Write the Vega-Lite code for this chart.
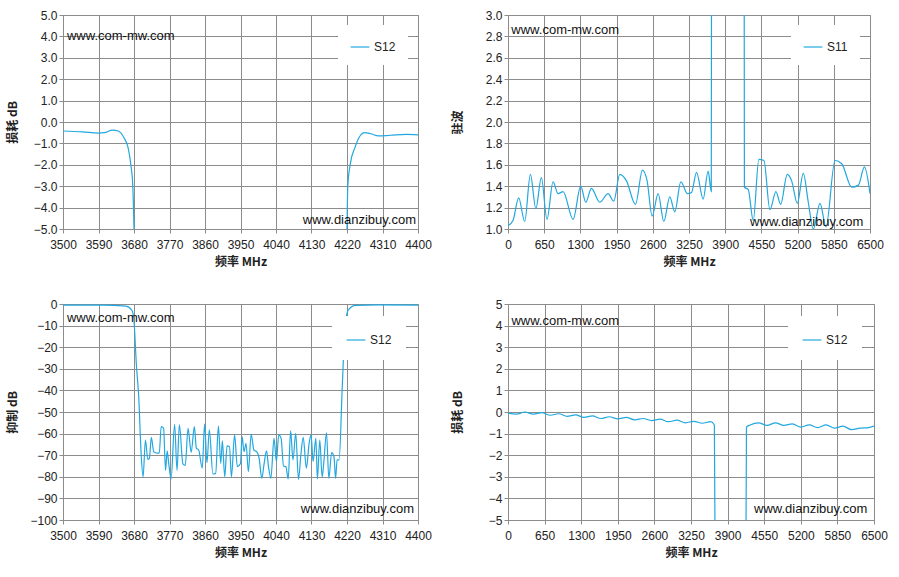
{
  "$schema": "https://vega.github.io/schema/vega-lite/v6.json",
  "padding": {"left": 5, "top": 8, "right": 5, "bottom": 5},
  "background": "white",
  "spacing": 29,
  "resolve": {"scale": {"color": "independent"}, "legend": {"color": "independent"}},
  "datasets": {
    "p1": [
      {"f": 3500, "v": -0.42, "seg": 1, "s": "S12"},
      {"f": 3550, "v": -0.46, "seg": 1, "s": "S12"},
      {"f": 3590, "v": -0.52, "seg": 1, "s": "S12"},
      {"f": 3605, "v": -0.5, "seg": 1, "s": "S12"},
      {"f": 3625, "v": -0.38, "seg": 1, "s": "S12"},
      {"f": 3640, "v": -0.42, "seg": 1, "s": "S12"},
      {"f": 3655, "v": -0.75, "seg": 1, "s": "S12"},
      {"f": 3665, "v": -1.2, "seg": 1, "s": "S12"},
      {"f": 3672, "v": -2.0, "seg": 1, "s": "S12"},
      {"f": 3677, "v": -3.0, "seg": 1, "s": "S12"},
      {"f": 3680, "v": -5.0, "seg": 1, "s": "S12"},
      {"f": 4220, "v": -5.0, "seg": 2, "s": "S12"},
      {"f": 4222, "v": -3.0, "seg": 2, "s": "S12"},
      {"f": 4228, "v": -2.0, "seg": 2, "s": "S12"},
      {"f": 4240, "v": -1.2, "seg": 2, "s": "S12"},
      {"f": 4255, "v": -0.6, "seg": 2, "s": "S12"},
      {"f": 4265, "v": -0.5, "seg": 2, "s": "S12"},
      {"f": 4280, "v": -0.55, "seg": 2, "s": "S12"},
      {"f": 4300, "v": -0.65, "seg": 2, "s": "S12"},
      {"f": 4330, "v": -0.62, "seg": 2, "s": "S12"},
      {"f": 4370, "v": -0.58, "seg": 2, "s": "S12"},
      {"f": 4400, "v": -0.6, "seg": 2, "s": "S12"}
    ],
    "p2": [
      {"f": 0, "v": 1.03, "seg": 1, "s": "S11"},
      {"f": 90, "v": 1.08, "seg": 1, "s": "S11"},
      {"f": 192, "v": 1.29, "seg": 1, "s": "S11"},
      {"f": 300, "v": 1.07, "seg": 1, "s": "S11"},
      {"f": 402, "v": 1.51, "seg": 1, "s": "S11"},
      {"f": 500, "v": 1.19, "seg": 1, "s": "S11"},
      {"f": 599, "v": 1.48, "seg": 1, "s": "S11"},
      {"f": 700, "v": 1.09, "seg": 1, "s": "S11"},
      {"f": 809, "v": 1.44, "seg": 1, "s": "S11"},
      {"f": 899, "v": 1.33, "seg": 1, "s": "S11"},
      {"f": 989, "v": 1.35, "seg": 1, "s": "S11"},
      {"f": 1168, "v": 1.09, "seg": 1, "s": "S11"},
      {"f": 1306, "v": 1.4, "seg": 1, "s": "S11"},
      {"f": 1396, "v": 1.25, "seg": 1, "s": "S11"},
      {"f": 1498, "v": 1.38, "seg": 1, "s": "S11"},
      {"f": 1647, "v": 1.25, "seg": 1, "s": "S11"},
      {"f": 1797, "v": 1.33, "seg": 1, "s": "S11"},
      {"f": 1899, "v": 1.26, "seg": 1, "s": "S11"},
      {"f": 2007, "v": 1.51, "seg": 1, "s": "S11"},
      {"f": 2127, "v": 1.45, "seg": 1, "s": "S11"},
      {"f": 2289, "v": 1.23, "seg": 1, "s": "S11"},
      {"f": 2414, "v": 1.55, "seg": 1, "s": "S11"},
      {"f": 2498, "v": 1.45, "seg": 1, "s": "S11"},
      {"f": 2588, "v": 1.12, "seg": 1, "s": "S11"},
      {"f": 2696, "v": 1.33, "seg": 1, "s": "S11"},
      {"f": 2798, "v": 1.07, "seg": 1, "s": "S11"},
      {"f": 2905, "v": 1.3, "seg": 1, "s": "S11"},
      {"f": 2995, "v": 1.16, "seg": 1, "s": "S11"},
      {"f": 3103, "v": 1.44, "seg": 1, "s": "S11"},
      {"f": 3223, "v": 1.33, "seg": 1, "s": "S11"},
      {"f": 3295, "v": 1.34, "seg": 1, "s": "S11"},
      {"f": 3385, "v": 1.53, "seg": 1, "s": "S11"},
      {"f": 3504, "v": 1.28, "seg": 1, "s": "S11"},
      {"f": 3594, "v": 1.54, "seg": 1, "s": "S11"},
      {"f": 3650, "v": 1.35, "seg": 1, "s": "S11"},
      {"f": 3654, "v": 3.2, "seg": 1, "s": "S11"},
      {"f": 4241, "v": 3.2, "seg": 2, "s": "S11"},
      {"f": 4245, "v": 1.39, "seg": 2, "s": "S11"},
      {"f": 4313, "v": 1.37, "seg": 2, "s": "S11"},
      {"f": 4403, "v": 1.08, "seg": 2, "s": "S11"},
      {"f": 4505, "v": 1.65, "seg": 2, "s": "S11"},
      {"f": 4595, "v": 1.64, "seg": 2, "s": "S11"},
      {"f": 4703, "v": 1.18, "seg": 2, "s": "S11"},
      {"f": 4811, "v": 1.35, "seg": 2, "s": "S11"},
      {"f": 4895, "v": 1.23, "seg": 2, "s": "S11"},
      {"f": 5015, "v": 1.51, "seg": 2, "s": "S11"},
      {"f": 5093, "v": 1.45, "seg": 2, "s": "S11"},
      {"f": 5195, "v": 1.24, "seg": 2, "s": "S11"},
      {"f": 5302, "v": 1.52, "seg": 2, "s": "S11"},
      {"f": 5392, "v": 1.25, "seg": 2, "s": "S11"},
      {"f": 5482, "v": 1.0, "seg": 2, "s": "S11"},
      {"f": 5602, "v": 1.24, "seg": 2, "s": "S11"},
      {"f": 5710, "v": 1.02, "seg": 2, "s": "S11"},
      {"f": 5872, "v": 1.64, "seg": 2, "s": "S11"},
      {"f": 5992, "v": 1.61, "seg": 2, "s": "S11"},
      {"f": 6172, "v": 1.39, "seg": 2, "s": "S11"},
      {"f": 6292, "v": 1.41, "seg": 2, "s": "S11"},
      {"f": 6400, "v": 1.58, "seg": 2, "s": "S11"},
      {"f": 6500, "v": 1.33, "seg": 2, "s": "S11"}
    ],
    "p3": [
      {"f": 3500, "v": -0.5, "s": "S12"}, {"f": 3600, "v": -0.5, "s": "S12"},
      {"f": 3660, "v": -1, "s": "S12"}, {"f": 3675, "v": -3, "s": "S12"},
      {"f": 3680, "v": -8, "s": "S12"}, {"f": 3686, "v": -28, "s": "S12"},
      {"f": 3692, "v": -43, "s": "S12"}, {"f": 3698, "v": -69, "s": "S12"},
      {"f": 3703, "v": -80, "s": "S12"}, {"f": 3709, "v": -63, "s": "S12"},
      {"f": 3715, "v": -72, "s": "S12"}, {"f": 3719, "v": -71.5, "s": "S12"},
      {"f": 3724, "v": -61.7, "s": "S12"}, {"f": 3730, "v": -68.4, "s": "S12"},
      {"f": 3739, "v": -69, "s": "S12"}, {"f": 3744, "v": -69, "s": "S12"},
      {"f": 3749, "v": -56.8, "s": "S12"}, {"f": 3755, "v": -57.5, "s": "S12"},
      {"f": 3760, "v": -77, "s": "S12"}, {"f": 3764, "v": -68, "s": "S12"},
      {"f": 3768, "v": -73.8, "s": "S12"}, {"f": 3774, "v": -81, "s": "S12"},
      {"f": 3783, "v": -55.7, "s": "S12"}, {"f": 3789, "v": -77, "s": "S12"},
      {"f": 3795, "v": -56, "s": "S12"}, {"f": 3804, "v": -74, "s": "S12"},
      {"f": 3810, "v": -74.7, "s": "S12"}, {"f": 3817, "v": -57.6, "s": "S12"},
      {"f": 3825, "v": -68.7, "s": "S12"}, {"f": 3833, "v": -56.8, "s": "S12"},
      {"f": 3838, "v": -66.7, "s": "S12"}, {"f": 3844, "v": -67.6, "s": "S12"},
      {"f": 3853, "v": -76, "s": "S12"}, {"f": 3859, "v": -55.6, "s": "S12"},
      {"f": 3865, "v": -73.5, "s": "S12"}, {"f": 3871, "v": -58.3, "s": "S12"},
      {"f": 3880, "v": -78.7, "s": "S12"}, {"f": 3887, "v": -78.4, "s": "S12"},
      {"f": 3894, "v": -56.5, "s": "S12"}, {"f": 3900, "v": -73.8, "s": "S12"},
      {"f": 3904, "v": -63.3, "s": "S12"}, {"f": 3910, "v": -80, "s": "S12"},
      {"f": 3916, "v": -65.7, "s": "S12"}, {"f": 3922, "v": -66, "s": "S12"},
      {"f": 3927, "v": -80, "s": "S12"}, {"f": 3935, "v": -60.6, "s": "S12"},
      {"f": 3942, "v": -75.3, "s": "S12"}, {"f": 3950, "v": -73.8, "s": "S12"},
      {"f": 3954, "v": -61.4, "s": "S12"}, {"f": 3959, "v": -68.4, "s": "S12"},
      {"f": 3964, "v": -64.5, "s": "S12"}, {"f": 3970, "v": -77.6, "s": "S12"},
      {"f": 3977, "v": -60.3, "s": "S12"}, {"f": 3984, "v": -67.6, "s": "S12"},
      {"f": 3991, "v": -68.4, "s": "S12"}, {"f": 3997, "v": -71.1, "s": "S12"},
      {"f": 4004, "v": -80.7, "s": "S12"}, {"f": 4010, "v": -73.8, "s": "S12"},
      {"f": 4016, "v": -68, "s": "S12"}, {"f": 4021, "v": -75.3, "s": "S12"},
      {"f": 4027, "v": -80.7, "s": "S12"}, {"f": 4035, "v": -62.2, "s": "S12"},
      {"f": 4041, "v": -73, "s": "S12"}, {"f": 4047, "v": -60.6, "s": "S12"},
      {"f": 4053, "v": -62.2, "s": "S12"}, {"f": 4059, "v": -75, "s": "S12"},
      {"f": 4065, "v": -75.3, "s": "S12"}, {"f": 4071, "v": -81, "s": "S12"},
      {"f": 4077, "v": -58.6, "s": "S12"}, {"f": 4083, "v": -72.2, "s": "S12"},
      {"f": 4090, "v": -59.9, "s": "S12"}, {"f": 4097, "v": -81.2, "s": "S12"},
      {"f": 4103, "v": -69.9, "s": "S12"}, {"f": 4109, "v": -61.7, "s": "S12"},
      {"f": 4117, "v": -76, "s": "S12"}, {"f": 4124, "v": -64.5, "s": "S12"},
      {"f": 4129, "v": -60.6, "s": "S12"}, {"f": 4134, "v": -73, "s": "S12"},
      {"f": 4141, "v": -62.2, "s": "S12"}, {"f": 4145, "v": -81, "s": "S12"},
      {"f": 4151, "v": -63, "s": "S12"}, {"f": 4157, "v": -80, "s": "S12"},
      {"f": 4161, "v": -73.8, "s": "S12"}, {"f": 4168, "v": -59.6, "s": "S12"},
      {"f": 4174, "v": -80.7, "s": "S12"}, {"f": 4181, "v": -68.8, "s": "S12"},
      {"f": 4187, "v": -70.7, "s": "S12"}, {"f": 4191, "v": -80.7, "s": "S12"},
      {"f": 4195, "v": -72.2, "s": "S12"}, {"f": 4200, "v": -72.2, "s": "S12"},
      {"f": 4208, "v": -38.3, "s": "S12"}, {"f": 4215, "v": -10.5, "s": "S12"},
      {"f": 4223, "v": -2.8, "s": "S12"}, {"f": 4242, "v": -0.6, "s": "S12"},
      {"f": 4300, "v": -0.4, "s": "S12"}, {"f": 4400, "v": -0.5, "s": "S12"}
    ],
    "p4": [
      {"f": 0, "v": -0.05, "seg": 1, "s": "S12"}, {"f": 150, "v": -0.1, "seg": 1, "s": "S12"},
      {"f": 300, "v": 0.0, "seg": 1, "s": "S12"}, {"f": 450, "v": -0.1, "seg": 1, "s": "S12"},
      {"f": 600, "v": -0.03, "seg": 1, "s": "S12"}, {"f": 750, "v": -0.15, "seg": 1, "s": "S12"},
      {"f": 900, "v": -0.08, "seg": 1, "s": "S12"}, {"f": 1050, "v": -0.2, "seg": 1, "s": "S12"},
      {"f": 1200, "v": -0.13, "seg": 1, "s": "S12"}, {"f": 1350, "v": -0.25, "seg": 1, "s": "S12"},
      {"f": 1500, "v": -0.18, "seg": 1, "s": "S12"}, {"f": 1650, "v": -0.3, "seg": 1, "s": "S12"},
      {"f": 1800, "v": -0.22, "seg": 1, "s": "S12"}, {"f": 1950, "v": -0.32, "seg": 1, "s": "S12"},
      {"f": 2100, "v": -0.25, "seg": 1, "s": "S12"}, {"f": 2250, "v": -0.36, "seg": 1, "s": "S12"},
      {"f": 2400, "v": -0.3, "seg": 1, "s": "S12"}, {"f": 2550, "v": -0.4, "seg": 1, "s": "S12"},
      {"f": 2700, "v": -0.33, "seg": 1, "s": "S12"}, {"f": 2850, "v": -0.45, "seg": 1, "s": "S12"},
      {"f": 3000, "v": -0.38, "seg": 1, "s": "S12"}, {"f": 3150, "v": -0.5, "seg": 1, "s": "S12"},
      {"f": 3300, "v": -0.43, "seg": 1, "s": "S12"}, {"f": 3450, "v": -0.52, "seg": 1, "s": "S12"},
      {"f": 3600, "v": -0.45, "seg": 1, "s": "S12"}, {"f": 3665, "v": -0.6, "seg": 1, "s": "S12"},
      {"f": 3676, "v": -5.5, "seg": 1, "s": "S12"},
      {"f": 4227, "v": -5.5, "seg": 2, "s": "S12"}, {"f": 4235, "v": -0.7, "seg": 2, "s": "S12"},
      {"f": 4300, "v": -0.6, "seg": 2, "s": "S12"}, {"f": 4450, "v": -0.5, "seg": 2, "s": "S12"},
      {"f": 4600, "v": -0.62, "seg": 2, "s": "S12"}, {"f": 4750, "v": -0.5, "seg": 2, "s": "S12"},
      {"f": 4900, "v": -0.62, "seg": 2, "s": "S12"}, {"f": 5050, "v": -0.55, "seg": 2, "s": "S12"},
      {"f": 5200, "v": -0.7, "seg": 2, "s": "S12"}, {"f": 5350, "v": -0.6, "seg": 2, "s": "S12"},
      {"f": 5500, "v": -0.72, "seg": 2, "s": "S12"}, {"f": 5650, "v": -0.6, "seg": 2, "s": "S12"},
      {"f": 5800, "v": -0.75, "seg": 2, "s": "S12"}, {"f": 5950, "v": -0.65, "seg": 2, "s": "S12"},
      {"f": 6100, "v": -0.82, "seg": 2, "s": "S12"}, {"f": 6250, "v": -0.75, "seg": 2, "s": "S12"},
      {"f": 6400, "v": -0.72, "seg": 2, "s": "S12"}, {"f": 6500, "v": -0.65, "seg": 2, "s": "S12"}
    ]
  },
  "vconcat": [
    {
      "spacing": 18,
      "resolve": {"scale": {"color": "independent"}, "legend": {"color": "independent"}},
      "hconcat": [
        {
          "width": 355, "height": 214,
          "encoding": {
            "x": {"field": "f", "type": "quantitative", "scale": {"domain": [3500, 4400], "nice": false},
              "axis": {"values": [3500, 3590, 3680, 3770, 3860, 3950, 4040, 4130, 4220, 4310, 4400], "format": "d", "labelOverlap": false, "title": "频率 MHz"}},
            "y": {"field": "v", "type": "quantitative", "scale": {"domain": [-5, 5], "nice": false},
              "axis": {"values": [-5, -4, -3, -2, -1, 0, 1, 2, 3, 4, 5], "format": ".1f", "labelOverlap": false, "title": "损耗 dB"}}
          },
          "layer": [
            {
              "data": {"name": "p1"},
              "mark": {"type": "line", "interpolate": "monotone", "clip": true, "strokeWidth": 1.2},
              "encoding": {
                "detail": {"field": "seg"},
                "color": {"field": "s", "type": "nominal", "scale": {"range": ["#22a8e0"]}, "legend": {"title": null}}
              }
            },
            {
              "data": {"values": [{"t": "www.com-mw.com", "f": 3510, "v": 4.0}]},
              "mark": {"type": "text", "align": "left", "fontSize": 13, "font": "Liberation Sans", "color": "#111"},
              "encoding": {"text": {"field": "t"}}
            },
            {
              "data": {"values": [{"t": "www.dianzibuy.com", "f": 4395, "v": -4.6}]},
              "mark": {"type": "text", "align": "right", "fontSize": 13, "font": "Liberation Sans", "color": "#111"},
              "encoding": {"text": {"field": "t"}}
            }
          ]
        },
        {
          "width": 362, "height": 214,
          "encoding": {
            "x": {"field": "f", "type": "quantitative", "scale": {"domain": [0, 6500], "nice": false},
              "axis": {"values": [0, 650, 1300, 1950, 2600, 3250, 3900, 4550, 5200, 5850, 6500], "format": "d", "labelOverlap": false, "title": "频率 MHz"}},
            "y": {"field": "v", "type": "quantitative", "scale": {"domain": [1, 3], "nice": false},
              "axis": {"values": [1, 1.2, 1.4, 1.6, 1.8, 2, 2.2, 2.4, 2.6, 2.8, 3], "format": ".1f", "labelOverlap": false, "title": "驻波"}}
          },
          "layer": [
            {
              "data": {"name": "p2"},
              "mark": {"type": "line", "interpolate": "monotone", "clip": true, "strokeWidth": 1.2},
              "encoding": {
                "detail": {"field": "seg"},
                "color": {"field": "s", "type": "nominal", "scale": {"range": ["#22a8e0"]}, "legend": {"title": null}}
              }
            },
            {
              "data": {"values": [{"t": "www.com-mw.com", "f": 60, "v": 2.86}]},
              "mark": {"type": "text", "align": "left", "fontSize": 13, "font": "Liberation Sans", "color": "#111"},
              "encoding": {"text": {"field": "t"}}
            },
            {
              "data": {"values": [{"t": "www.dianzibuy.com", "f": 6380, "v": 1.07}]},
              "mark": {"type": "text", "align": "right", "fontSize": 13, "font": "Liberation Sans", "color": "#111"},
              "encoding": {"text": {"field": "t"}}
            }
          ]
        }
      ]
    },
    {
      "spacing": 18,
      "resolve": {"scale": {"color": "independent"}, "legend": {"color": "independent"}},
      "hconcat": [
        {
          "width": 355, "height": 216,
          "encoding": {
            "x": {"field": "f", "type": "quantitative", "scale": {"domain": [3500, 4400], "nice": false},
              "axis": {"values": [3500, 3590, 3680, 3770, 3860, 3950, 4040, 4130, 4220, 4310, 4400], "format": "d", "labelOverlap": false, "title": "频率 MHz"}},
            "y": {"field": "v", "type": "quantitative", "scale": {"domain": [-100, 0], "nice": false},
              "axis": {"values": [-100, -90, -80, -70, -60, -50, -40, -30, -20, -10, 0], "format": "d", "labelOverlap": false, "title": "抑制 dB"}}
          },
          "layer": [
            {
              "data": {"name": "p3"},
              "mark": {"type": "line", "interpolate": "monotone", "clip": true, "strokeWidth": 1.2},
              "encoding": {
                "color": {"field": "s", "type": "nominal", "scale": {"range": ["#22a8e0"]}, "legend": {"title": null, "offset": 12, "padding": 14}}
              }
            },
            {
              "data": {"values": [{"t": "www.com-mw.com", "f": 3510, "v": -6.5}]},
              "mark": {"type": "text", "align": "left", "fontSize": 13, "font": "Liberation Sans", "color": "#111"},
              "encoding": {"text": {"field": "t"}}
            },
            {
              "data": {"values": [{"t": "www.dianzibuy.com", "f": 4390, "v": -95}]},
              "mark": {"type": "text", "align": "right", "fontSize": 13, "font": "Liberation Sans", "color": "#111"},
              "encoding": {"text": {"field": "t"}}
            }
          ]
        },
        {
          "width": 366, "height": 216,
          "encoding": {
            "x": {"field": "f", "type": "quantitative", "scale": {"domain": [0, 6500], "nice": false},
              "axis": {"values": [0, 650, 1300, 1950, 2600, 3250, 3900, 4550, 5200, 5850, 6500], "format": "d", "labelOverlap": false, "title": "频率 MHz"}},
            "y": {"field": "v", "type": "quantitative", "scale": {"domain": [-5, 5], "nice": false},
              "axis": {"values": [-5, -4, -3, -2, -1, 0, 1, 2, 3, 4, 5], "format": "d", "labelOverlap": false, "title": "损耗 dB"}}
          },
          "layer": [
            {
              "data": {"name": "p4"},
              "mark": {"type": "line", "interpolate": "monotone", "clip": true, "strokeWidth": 1.2},
              "encoding": {
                "detail": {"field": "seg"},
                "color": {"field": "s", "type": "nominal", "scale": {"range": ["#22a8e0"]}, "legend": {"title": null, "offset": 12, "padding": 14}}
              }
            },
            {
              "data": {"values": [{"t": "www.com-mw.com", "f": 60, "v": 4.2}]},
              "mark": {"type": "text", "align": "left", "fontSize": 13, "font": "Liberation Sans", "color": "#111"},
              "encoding": {"text": {"field": "t"}}
            },
            {
              "data": {"values": [{"t": "www.dianzibuy.com", "f": 6380, "v": -4.5}]},
              "mark": {"type": "text", "align": "right", "fontSize": 13, "font": "Liberation Sans", "color": "#111"},
              "encoding": {"text": {"field": "t"}}
            }
          ]
        }
      ]
    }
  ],
  "config": {
    "font": "Liberation Sans",
    "view": {"stroke": "#8c8c8c", "strokeWidth": 1},
    "axis": {
      "gridColor": "#8c8c8c", "gridOpacity": 1, "gridWidth": 1,
      "domainColor": "#8c8c8c", "tickColor": "#8c8c8c", "tickSize": 4,
      "labelFont": "Liberation Sans", "labelFontSize": 12, "labelColor": "#222",
      "titleFont": "Noto Sans CJK SC", "titleFontSize": 12, "titleFontWeight": "bold", "titleColor": "#222",
      "labelFlush": false
    },
    "axisX": {"labelPadding": 6, "titlePadding": 6},
    "axisY": {"titlePadding": 8, "minExtent": 36, "maxExtent": 36},
    "legend": {
      "orient": "top-right", "offset": 10, "fillColor": "white", "padding": 12,
      "symbolType": "stroke", "symbolStrokeWidth": 1.2, "symbolSize": 350,
      "labelFontSize": 12, "labelFont": "Liberation Sans", "labelColor": "#222"
    }
  }
}
